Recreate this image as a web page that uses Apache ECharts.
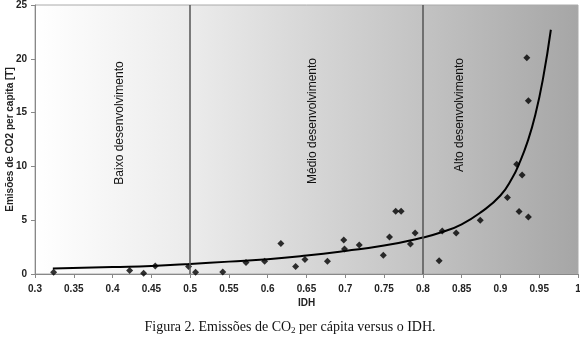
<!DOCTYPE html>
<html>
<head>
<meta charset="utf-8">
<script src="https://cdn.jsdelivr.net/npm/echarts@6/dist/echarts.min.js"></script>
<style>
	* {
		margin: 0;
		padding: 0;
	}

	#chart {
		width: 580px;
		height: 341px;
		background: #fff;
	}
</style>
</head>
<body>
<div id="chart"></div>
<script>
	// paises: IDH x emissoes de CO2 per capita
	var idh = [0.324, 0.422, 0.440, 0.455, 0.498, 0.507, 0.542, 0.572, 0.596, 0.617,
		0.636, 0.648, 0.677, 0.698, 0.699, 0.718, 0.749, 0.757, 0.765, 0.772,
		0.784, 0.790, 0.821, 0.825, 0.843, 0.874, 0.909, 0.921, 0.924, 0.928,
		0.934, 0.936, 0.936];
	var emissoes = [0.16, 0.32, 0.07, 0.74, 0.69, 0.16, 0.18, 1.06, 1.18, 2.83,
		0.69, 1.34, 1.18, 3.16, 2.33, 2.7, 1.74, 3.44, 5.83, 5.83,
		2.79, 3.81, 1.24, 4.0, 3.8, 5.0, 7.1, 10.2, 5.8, 9.2,
		20.1, 16.1, 5.3];
	// linha de tendencia
	var tendX = [0.323, 0.4, 0.45, 0.5, 0.55, 0.6, 0.65, 0.7, 0.75, 0.8, 0.825, 0.85, 0.875, 0.9, 0.915, 0.925, 0.935, 0.945, 0.955, 0.965];
	var tendY = [0.5, 0.65, 0.75, 0.93, 1.15, 1.37, 1.71, 2.14, 2.64, 3.39, 3.9, 4.62, 5.75, 7.3, 8.9, 10.4, 12.3, 14.8, 18.2, 22.7];
	var limites = [0.5, 0.8];
	var faixas = ['Baixo desenvolvimento', 'Médio desenvolvimento', 'Alto desenvolvimento'];

	var pontos = [];
	idh.forEach(function(v, i) {
		pontos.push([v, emissoes[i]]);
	});
	var tendencia = [];
	tendX.forEach(function(v, i) {
		tendencia.push([v, tendY[i]]);
	});

	var chart = echarts.init(document.getElementById('chart'));
	var fonte = '"Liberation Sans", Arial, sans-serif';

	chart.setOption({
		animation: false,
		grid: {
			left: 35,
			right: 2,
			top: 5,
			bottom: 67,
			containLabel: false,
			outerBoundsMode: 'none',
			show: true,
			borderColor: '#aaa',
			borderWidth: 1,
			backgroundColor: {
				type: 'linear',
				x: 0, y: 0, x2: 1, y2: 0,
				colorStops: [
					{ offset: 0, color: '#ffffff' },
					{ offset: 0.29, color: '#ebebeb' },
					{ offset: 0.71, color: '#c3c3c3' },
					{ offset: 1, color: '#a6a6a6' }
				]
			}
		},
		xAxis: {
			type: 'value',
			min: 0.3,
			max: 1,
			interval: 0.05,
			name: 'IDH',
			nameLocation: 'middle',
			nameGap: 24,
			nameMoveOverlap: false,
			nameTextStyle: { fontFamily: fonte, fontSize: 10, fontWeight: 'bold', color: '#222' },
			splitLine: { show: false },
			axisLine: { lineStyle: { color: '#888' } },
			axisTick: { show: true, length: 4, lineStyle: { color: '#888' } },
			axisLabel: {
				fontFamily: fonte, fontSize: 10, fontWeight: 'bold', color: '#222', margin: 10,
				formatter: function(v) { return String(+v.toFixed(2)); }
			}
		},
		yAxis: {
			type: 'value',
			min: 0,
			max: 25,
			interval: 5,
			name: 'Emisões de CO2 per capita [T]',
			nameLocation: 'middle',
			nameGap: 20,
			nameMoveOverlap: false,
			nameTextStyle: { fontFamily: fonte, fontSize: 10, fontWeight: 'bold', color: '#222' },
			splitLine: { show: false },
			axisLine: { show: true, lineStyle: { color: '#888' } },
			axisTick: { show: true, length: 4, lineStyle: { color: '#888' } },
			axisLabel: { fontFamily: fonte, fontSize: 10, fontWeight: 'bold', color: '#222', margin: 8 }
		},
		graphic: [
			{ type: 'text', x: 120, y: 123, rotation: Math.PI / 2, style: { text: faixas[0], font: '12px ' + fonte, fill: '#111', align: 'center', verticalAlign: 'middle' } },
			{ type: 'text', x: 313, y: 121, rotation: Math.PI / 2, style: { text: faixas[1], font: '12px ' + fonte, fill: '#111', align: 'center', verticalAlign: 'middle' } },
			{ type: 'text', x: 460, y: 115, rotation: Math.PI / 2, style: { text: faixas[2], font: '12px ' + fonte, fill: '#111', align: 'center', verticalAlign: 'middle' } },
			{
				type: 'text', x: 290, y: 327,
				style: {
					text: '{a|Figura 2. Emissões de CO}{s|2}{a| per cápita versus o IDH.}',
					align: 'center',
					verticalAlign: 'middle',
					rich: {
						a: { fontFamily: '"Liberation Serif", "Times New Roman", serif', fontSize: 14, fill: '#111' },
						s: { fontFamily: '"Liberation Serif", "Times New Roman", serif', fontSize: 9, fill: '#111', padding: [8, 0, 0, 0] }
					}
				}
			}
		],
		series: [{
				type: 'scatter',
				data: pontos,
				symbol: 'diamond',
				symbolSize: 7,
				itemStyle: { color: '#000' },
				z: 3,
				markLine: {
					silent: true,
					symbol: ['none', 'none'],
					label: { show: false },
					lineStyle: { color: '#555', width: 1.5, type: 'solid' },
					data: limites.map(function(v) { return { xAxis: v }; })
				}
			},
			{
				type: 'line',
				data: tendencia,
				smooth: 0.5,
				showSymbol: false,
				lineStyle: { color: '#000', width: 2 },
				z: 4
			}
		]
	});
</script>
</body>
</html>
